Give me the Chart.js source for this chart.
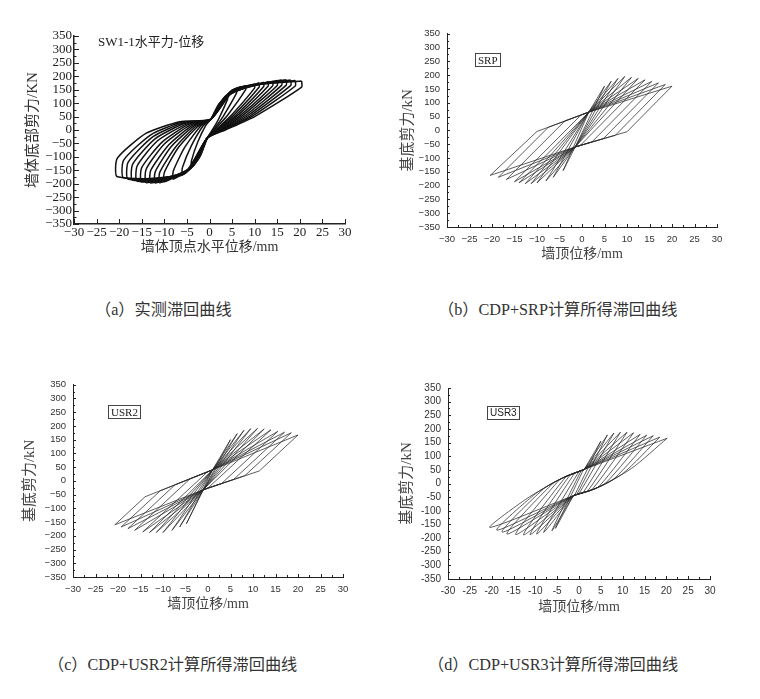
<!DOCTYPE html>
<html>
<head>
<meta charset="utf-8">
<script src="https://cdn.jsdelivr.net/npm/chart.js@4.4.1/dist/chart.umd.min.js"></script>
<style>
body { margin: 0; width: 760px; height: 699px; background: #fff; position: relative; overflow: hidden;
       font-family: "Liberation Serif", "Noto Sans CJK SC", serif; color: #333; }
canvas { position: absolute; }
.cap { position: absolute; font-size: 16.2px; white-space: nowrap; color: #333; line-height: 18px; }
.tag { position: absolute; border: 1px solid #444; font-size: 11px; line-height: 12px; padding: 0 2px; color: #222; }
</style>
</head>
<body>
<canvas id="ca"></canvas>
<canvas id="cb"></canvas>
<canvas id="cc"></canvas>
<canvas id="cd"></canvas>

<div class="tag" style="left:96px;top:36px;border:none;font-size:13px;">SW1-1水平力-位移</div>
<div class="tag" style="left:475px;top:53px;">SRP</div>
<div class="tag" style="left:108px;top:405px;">USR2</div>
<div class="tag" style="left:487px;top:406px;font-family:'Liberation Sans';font-size:10px;">USR3</div>

<div class="cap" style="left:95px;top:301px;">（a）实测滞回曲线</div>
<div class="cap" style="left:438px;top:301px;">（b）CDP+SRP计算所得滞回曲线</div>
<div class="cap" style="left:48px;top:656px;">（c）CDP+USR2计算所得滞回曲线</div>
<div class="cap" style="left:428px;top:656px;">（d）CDP+USR3计算所得滞回曲线</div>

<script>
// ---- (a) measured loops ----
const aDisp     = [4, 6, 8, 10, 11, 12, 13, 14, 15, 16, 17, 18, 19, 20.4];
const aPosPeak  = [125, 150, 165, 172, 176, 178, 180, 182, 184, 186, 187, 186, 184, 182];
const aPosRelax = [115, 138, 150, 157, 160, 162, 164, 165, 166, 167, 167, 166, 164, 160];
const aNegPeak  = [-135, -165, -183, -193, -196, -197, -197, -196, -194, -191, -187, -183, -178, -174];
const aNegRelax = [-115, -140, -152, -158, -157, -155, -150, -145, -140, -133, -127, -120, -112, -105];
const aPosMid1X = [2, 3, 4, 5, 5.5, 6, 6.5, 7, 7.5, 8, 8.5, 9, 9.5, 10];
const aPosMid1Y = [40, 50, 55, 58, 58, 58, 58, 57, 56, 55, 54, 53, 52, 50];
const aPosMid2X = [0.8, 1.2, 1.6, 2, 2.2, 2.4, 2.6, 2.8, 3, 3.1, 3.2, 3.3, 3.4, 3.5];
const aPosMid2Y = [5, 8, 10, 10, 10, 9, 8, 7, 6, 5, 4, 3, 2, 0];
const aNegMid1X = [-2.6, -4, -5.5, -7, -7.5, -8.5, -9, -10, -10.5, -11.5, -12, -12.5, -13, -14];
const aNegMid1Y = [-45, -58, -65, -68, -63, -62, -55, -52, -45, -40, -32, -25, -18, -12];
const aNegMid2X = [-0.8, -1.4, -2, -2.6, -3, -3.4, -3.8, -4.2, -4.6, -5, -5.4, -5.8, -6.2, -6.6];
const aNegMid2Y = [18, 16, 14, 13, 14, 15, 17, 19, 21, 23, 25, 27, 29, 31];
const aKneePosX = [2, 2.5, 3, 3.5, 3.5, 4, 4, 4.5, 4.5, 5, 5, 5.5, 5.5, 6];
const aKneePosY = [95, 105, 115, 125, 125, 132, 132, 140, 140, 148, 148, 152, 152, 156];
const aKneeNegX = [-2, -2.5, -3, -3.5, -3.5, -4, -4, -4.5, -4.5, -5, -5, -5.5, -5.5, -6];
const aKneeNegY = [-95, -110, -120, -132, -132, -140, -140, -148, -148, -155, -155, -162, -162, -168];
const aPinchPos = [0.3, 40];
const aPinchNeg = [-0.5, -30];

// ---- (b) CDP+SRP ----
const bDisp       = [5, 6.5, 8, 9.5, 11, 12.5, 14, 15.5, 17, 18.5, 20];
const bPosPeak    = [160, 178, 188, 195, 192, 188, 183, 177, 172, 166, 160];
const bNegDisp    = [4.2, 6.4, 8, 10, 11.3, 12.6, 14, 15, 16.8, 18.6, 20.4];
const bNegPeak    = [-146, -170, -183, -190, -193, -193, -190, -186, -178, -170, -163];
const bPosUnloadX = [-1.5, -1.5, -1.5, -1.5, -1.5, -1.5, -0.4, 2.2, 4.75, 7.4, 10];
const bPosUnloadY = [-60, -60, -60, -60, -60, -60, -55, -42, -30, -18, -5];
const bNegUnloadX = [1.5, 1.5, 1.5, 1.5, 1.5, 1.5, 1.5, -0.2, -3.8, -7.5, -10];
const bNegUnloadY = [66, 66, 66, 66, 66, 66, 66, 56, 34, 11, -4];
const bPinchPos   = [1.5, 66];
const bPinchNeg   = [-1.5, -60];

// ---- (c) CDP+USR2 ----
const cDisp       = [5, 6.5, 8, 9.5, 11, 12.5, 14, 15.5, 17, 18.5, 20];
const cPosPeak    = [150, 172, 184, 190, 191, 189, 186, 180, 177, 175, 167];
const cNegDisp    = [4.8, 6.3, 8, 10, 11.5, 13, 14.5, 16.3, 17.8, 19.3, 20.7];
const cNegPeak    = [-156, -168, -180, -188, -188, -188, -186, -180, -174, -168, -160];
const cPosUnloadX = [-1, -1, -1, -1, -1, -1, 0, 3, 5.7, 8.2, 11.4];
const cPosUnloadY = [-32, -32, -32, -32, -32, -32, -26, -10, 5, 19, 36];
const cNegUnloadX = [1, 1, 1, 1, 1, 1, -0.1, -3.95, -7.3, -10.6, -14];
const cNegUnloadY = [40, 40, 40, 40, 40, 40, 33, 8, -14, -36, -58];
const cPinchPos   = [1, 40];
const cPinchNeg   = [-1, -32];

// ---- (d) CDP+USR3 ----
const dDisp       = [5, 6.5, 8, 9.5, 11, 12.5, 14, 15.5, 17, 18.5, 20.2];
const dPosPeak    = [155, 178, 185, 188, 188, 186, 180, 177, 175, 170, 166];
const dNegDisp    = [5.4, 6.2, 8.1, 9.7, 11.2, 12.7, 14.5, 16.5, 17.6, 18.8, 20.4];
const dNegPeak    = [-164, -173, -179, -185, -187, -188, -187, -185, -178, -171, -161];
const dPosUnloadX = [-1, -0.5, 0, 1, 2, 3, 4.5, 6, 8, 10, 12];
const dPosUnloadY = [-43, -40, -37, -32, -27, -22, -12, 0, 17, 36, 55];
const dPosMidX    = [-1.2, -1, -0.7, -0.3, 0.3, 0.8, 1.5, 2.3, 3.3, 3.8, 3.8];
const dPosMidY    = [-44, -43, -42, -40, -37, -34, -31, -27, -21, -18, -18];
const dNegUnloadX = [1, 0.5, 0, -1, -2, -3, -4.5, -6, -8, -10, -12.2];
const dNegUnloadY = [50, 47, 44, 38, 32, 25, 13, 0, -18, -38, -58];
const dNegMidX    = [1.1, 0.9, 0.6, 0.1, -0.5, -1.2, -1.8, -2.5, -3.5, -3.8, -3.8];
const dNegMidY    = [51, 49.5, 48, 45, 41, 37, 33, 28, 22, 20, 20];
const dPinchPos   = [1.2, 52];
const dPinchNeg   = [-1.3, -45];

const xTickVals = [-30, -25, -20, -15, -10, -5, 0, 5, 10, 15, 20, 25, 30];

function pt(x, y) { return { x: x, y: y }; }

function measuredLoops() {
  return aDisp.map((d, i) => [
    pt(d, aPosPeak[i]), pt(d, aPosRelax[i]),
    pt(aPosMid1X[i], aPosMid1Y[i]), pt(aPosMid2X[i], aPosMid2Y[i]),
    pt(aPinchNeg[0], aPinchNeg[1]), pt(aKneeNegX[i], aKneeNegY[i]),
    pt(-d, aNegPeak[i]), pt(-d, aNegRelax[i]),
    pt(aNegMid1X[i], aNegMid1Y[i]), pt(aNegMid2X[i], aNegMid2Y[i]),
    pt(aPinchPos[0], aPinchPos[1]), pt(aKneePosX[i], aKneePosY[i]), pt(d, aPosPeak[i])
  ]);
}

function simLoops(s) {
  return s.disp.map((d, i) => {
    const p = [pt(d, s.pp[i]), pt(s.pux[i], s.puy[i])];
    if (s.pmx) p.push(pt(s.pmx[i], s.pmy[i]));
    p.push(pt(s.pinN[0], s.pinN[1]), pt(-s.ndisp[i], s.np[i]), pt(s.nux[i], s.nuy[i]));
    if (s.nmx) p.push(pt(s.nmx[i], s.nmy[i]));
    p.push(pt(s.pinP[0], s.pinP[1]), pt(d, s.pp[i]));
    return p;
  });
}

const inTicks = {
  id: 'inTicks',
  afterDraw(chart, args, o) {
    const { ctx, chartArea: a } = chart;
    const x = chart.scales.x, y = chart.scales.y;
    ctx.save();
    ctx.strokeStyle = o.color;
    ctx.lineWidth = o.width;
    ctx.beginPath();
    for (let v = -30; v <= 30; v += 2.5) {
      if (o.noXMinor && v % 5 !== 0) continue;
      const px = Math.round(x.getPixelForValue(v)) + 0.5;
      const len = v % 5 === 0 ? o.major : o.minor;
      ctx.moveTo(px, a.bottom);
      ctx.lineTo(px, a.bottom - len);
    }
    for (let v = -350; v <= 350; v += 25) {
      const py = Math.round(y.getPixelForValue(v)) + 0.5;
      const len = v % 50 === 0 ? o.major : o.minor;
      ctx.moveTo(a.left, py);
      ctx.lineTo(a.left + len, py);
    }
    ctx.stroke();
    ctx.restore();
  }
};

function makeChart(id, g, loops, st) {
  const cv = document.getElementById(id);
  const ylh = st.yTitleSize * 1.2, xlh = st.xTitleSize * 1.2;
  const cl = Math.round(g.yTitleX - ylh / 2);
  const ct = g.T - 10;
  const cr = g.R + 16;
  const cb = Math.round(g.xTitleY + xlh / 2);
  cv.style.left = cl + 'px';
  cv.style.top = ct + 'px';
  cv.width = cr - cl;
  cv.height = cb - ct;
  const yw = g.L - cl;
  const xh = cb - g.B;
  const minus = v => st.minus ? String(v).replace('-', '\u2212') : String(v);
  const tickFont = { family: st.tickFamily, size: st.tickSize };
  const fam = '"Liberation Serif", "Noto Sans CJK SC", serif';

  return new Chart(cv.getContext('2d'), {
    type: 'scatter',
    data: {
      datasets: loops.map(p => ({
        data: p, showLine: true, pointRadius: 0, borderColor: st.lineColor,
        borderWidth: st.lineWidth, tension: st.tension, fill: false
      }))
    },
    options: {
      responsive: false, animation: false, events: [],
      layout: { padding: { top: 10, right: 16, left: 0, bottom: 0 } },
      plugins: {
        legend: { display: false }, tooltip: { enabled: false },
        inTicks: { color: st.axisColor, width: 1, major: st.major, minor: st.minor, noXMinor: st.noXMinor }
      },
      scales: {
        x: {
          type: 'linear', min: -30, max: 30,
          afterFit: s => { s.height = xh; },
          afterBuildTicks: s => { s.ticks = xTickVals.map(v => ({ value: v })); },
          ticks: { padding: st.xPad, font: tickFont, color: st.tickColor, callback: minus, autoSkip: false, maxRotation: 0 },
          grid: { display: false, drawTicks: false },
          border: { display: true, color: st.axisColor, width: st.axisWidth },
          title: { display: true, text: st.xTitle, font: { family: fam, size: st.xTitleSize }, color: st.titleColor, padding: 0 }
        },
        y: {
          type: 'linear', min: -350, max: 350,
          afterFit: s => { s.width = yw; },
          ticks: { stepSize: 50, padding: st.yPad, font: tickFont, color: st.tickColor, callback: minus, autoSkip: false },
          grid: { display: false, drawTicks: false },
          border: { display: true, color: st.axisColor, width: st.axisWidth },
          title: { display: true, text: st.yTitle, font: { family: fam, size: st.yTitleSize }, color: st.titleColor, padding: 0 }
        }
      }
    },
    plugins: [inTicks]
  });
}

const sansTicks = '"Liberation Sans", Arial, sans-serif';
const serifTicks = '"Liberation Serif", "Times New Roman", serif';
const simStyle = {
  tickFamily: sansTicks, tickSize: 9.5, tickColor: '#333', minus: true, xPad: 7, yPad: 7,
  xTitleSize: 14, yTitleSize: 15, titleColor: '#444', axisColor: '#222', axisWidth: 1, major: 3, minor: 2,
  lineColor: '#2a2a2a', lineWidth: 0.75, tension: 0,
  xTitle: '墙顶位移/mm', yTitle: '基底剪力/kN'
};

makeChart('ca', { L: 74, T: 36, R: 345, B: 224, yTitleX: 33, xTitleY: 248 }, measuredLoops(), {
  tickFamily: serifTicks, tickSize: 13, tickColor: '#222', minus: true, xPad: 1, yPad: 2,
  xTitleSize: 14, yTitleSize: 15, titleColor: '#333', axisColor: '#222', axisWidth: 1.5, major: 5, minor: 2.5, noXMinor: true,
  lineColor: '#111', lineWidth: 1.5, tension: 0.2,
  xTitle: '墙体顶点水平位移/mm', yTitle: '墙体底部剪力/KN'
});

makeChart('cb', { L: 447, T: 31, R: 717, B: 227, yTitleX: 408, xTitleY: 255 },
  simLoops({ disp: bDisp, pp: bPosPeak, ndisp: bNegDisp, np: bNegPeak, pux: bPosUnloadX, puy: bPosUnloadY,
             nux: bNegUnloadX, nuy: bNegUnloadY, pinP: bPinchPos, pinN: bPinchNeg }), simStyle);

makeChart('cc', { L: 73, T: 382, R: 343, B: 577, yTitleX: 30, xTitleY: 605 },
  simLoops({ disp: cDisp, pp: cPosPeak, ndisp: cNegDisp, np: cNegPeak, pux: cPosUnloadX, puy: cPosUnloadY,
             nux: cNegUnloadX, nuy: cNegUnloadY, pinP: cPinchPos, pinN: cPinchNeg }), simStyle);

makeChart('cd', { L: 448, T: 385, R: 710, B: 579, yTitleX: 407, xTitleY: 608 },
  simLoops({ disp: dDisp, pp: dPosPeak, ndisp: dNegDisp, np: dNegPeak, pux: dPosUnloadX, puy: dPosUnloadY,
             pmx: dPosMidX, pmy: dPosMidY, nux: dNegUnloadX, nuy: dNegUnloadY, nmx: dNegMidX, nmy: dNegMidY,
             pinP: dPinchPos, pinN: dPinchNeg }),
  Object.assign({}, simStyle, { tickSize: 10, minus: false, xPad: 6, tension: 0.25 }));
</script>
</body>
</html>
